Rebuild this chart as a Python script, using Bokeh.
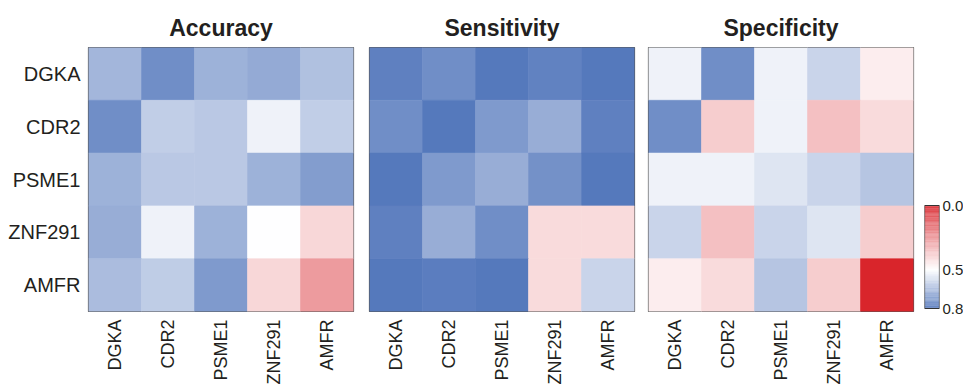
import math
import numpy as np
from bokeh.plotting import figure
from bokeh.layouts import row
from bokeh.models import ColumnDataSource, LinearColorMapper, FixedTicker, PrintfTickFormatter, Range1d
from bokeh.transform import transform
from bokeh.embed import file_html
from bokeh.resources import INLINE

genes = ["DGKA", "CDR2", "PSME1", "ZNF291", "AMFR"]
titles = ["Accuracy", "Sensitivity", "Specificity"]

# rows: DGKA..AMFR (top to bottom), columns: DGKA..AMFR (left to right)
accuracy = [
    [0.650, 0.735, 0.660, 0.675, 0.630],
    [0.735, 0.600, 0.615, 0.527, 0.600],
    [0.660, 0.615, 0.615, 0.660, 0.705],
    [0.670, 0.527, 0.660, 0.500, 0.410],
    [0.640, 0.605, 0.710, 0.410, 0.280],
]
sensitivity = [
    [0.765, 0.735, 0.780, 0.760, 0.780],
    [0.735, 0.780, 0.710, 0.670, 0.765],
    [0.780, 0.710, 0.670, 0.730, 0.780],
    [0.765, 0.670, 0.735, 0.420, 0.420],
    [0.780, 0.770, 0.780, 0.420, 0.590],
]
specificity = [
    [0.527, 0.735, 0.527, 0.590, 0.460],
    [0.735, 0.390, 0.527, 0.360, 0.420],
    [0.527, 0.527, 0.555, 0.590, 0.620],
    [0.590, 0.360, 0.590, 0.555, 0.390],
    [0.460, 0.420, 0.620, 0.390, 0.020],
]
colorbar_ticks = [0.0, 0.5, 0.8]

# diverging scale: 0.0 red -> 0.5 white -> 0.8 blue
c_low, c_mid, c_high = (215, 28, 35), (255, 255, 255), (74, 112, 184)
vmin, vmid, vmax = 0.0, 0.5, 0.8
N = 256
palette = []
for i in range(N):
    v = vmin + (vmax - vmin) * i / (N - 1)
    if v <= vmid:
        t = (v - vmin) / (vmid - vmin)
        a, b = c_low, c_mid
    else:
        t = (v - vmid) / (vmax - vmid)
        a, b = c_mid, c_high
    c = tuple(int(round(a[k] + (b[k] - a[k]) * t)) for k in range(3))
    palette.append("#%02x%02x%02x" % c)
mapper = LinearColorMapper(palette=palette, low=vmin, high=vmax)

FONT = "Liberation Sans"
TOP, FH, FW, BOTTOM = 47, 264, 265, 77


def style_axis(ax):
    ax.axis_line_color = None
    ax.major_tick_line_color = None
    ax.minor_tick_line_color = None
    ax.major_tick_out = 0
    ax.major_tick_in = 0
    ax.minor_tick_out = 0
    ax.minor_tick_in = 0
    ax.major_label_text_font = FONT
    ax.major_label_text_color = "#231f20"


def heat(title, data, left, right, show_y):
    xs, ys, vs = [], [], []
    for r, g in enumerate(genes):
        for c, h in enumerate(genes):
            xs.append(h); ys.append(g); vs.append(data[r][c])
    src = ColumnDataSource(dict(x=xs, y=ys, v=vs))
    p = figure(x_range=genes, y_range=list(reversed(genes)),
               frame_width=FW, frame_height=FH,
               min_border_left=left, min_border_right=right,
               min_border_top=TOP, min_border_bottom=BOTTOM,
               toolbar_location=None, output_backend="svg", title=title)
    p.rect(x="x", y="y", width=1, height=1, source=src,
           fill_color=transform("v", mapper), line_color=transform("v", mapper), line_width=0.6)
    p.title.align = "center"
    p.title.standoff = 13
    p.title.text_font = FONT
    p.title.text_font_size = "23px"
    p.title.text_font_style = "bold"
    p.title.text_color = "#231f20"
    p.outline_line_color = "#555555"
    p.outline_line_width = 1.2
    p.grid.visible = False
    p.background_fill_color = "white"
    p.border_fill_color = "white"
    for ax in (p.xaxis, p.yaxis):
        style_axis(ax)
        ax.major_label_standoff = 8
    p.yaxis.major_label_text_font_size = "20px"
    p.xaxis.major_label_text_font_size = "18px"
    p.xaxis.major_label_orientation = math.pi / 2
    if not show_y:
        p.yaxis.visible = False
    return p


p1 = heat(titles[0], accuracy, 88, 8, True)
p2 = heat(titles[1], sensitivity, 8, 7, False)
p3 = heat(titles[2], specificity, 7, 4, False)

# colour key: same frame as the heatmaps, the key occupies the lower part of it
key_top_px, key_bottom_px = 205, 308
ppu = (key_bottom_px - key_top_px) / (vmax - vmin)
y_top = vmin - (key_top_px - TOP) / ppu
y_bot = vmax + (TOP + FH - key_bottom_px) / ppu
cb_vals = list(np.linspace(vmin, vmax, 161))
step = (vmax - vmin) / 160
cb = figure(x_range=Range1d(0, 1), y_range=Range1d(y_bot, y_top),
            frame_width=15, frame_height=FH,
            min_border_left=7, min_border_right=24, min_border_top=TOP, min_border_bottom=BOTTOM,
            toolbar_location=None, output_backend="svg", y_axis_location="right")
cb.rect(x=0.5, y="v", width=1, height=step * 1.05, source=ColumnDataSource(dict(v=cb_vals)),
        fill_color=transform("v", mapper), line_color=None)
cb.rect(x=0.5, y=(vmin + vmax) / 2, width=1, height=vmax - vmin,
        fill_color=None, line_color="#333333", line_width=1.2)
cb.xaxis.visible = False
cb.grid.visible = False
cb.outline_line_color = None
cb.yaxis.ticker = FixedTicker(ticks=colorbar_ticks)
cb.yaxis.formatter = PrintfTickFormatter(format="%.1f")
style_axis(cb.yaxis)
cb.yaxis.major_label_standoff = 3
cb.yaxis.major_label_text_font_size = "15px"

layout = row(p1, p2, p3, cb)
open("out.html", "w").write(file_html(layout, INLINE))
